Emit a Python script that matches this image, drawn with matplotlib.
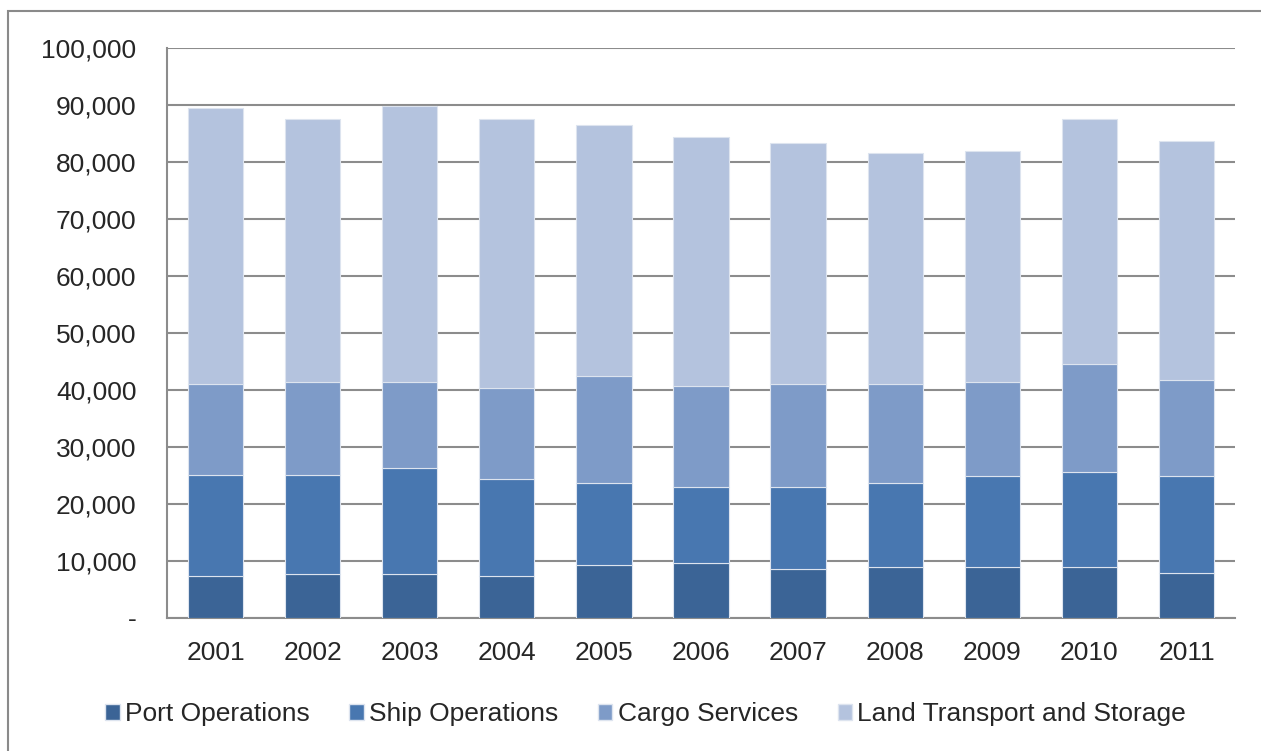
import matplotlib
matplotlib.use("Agg")
import matplotlib.pyplot as plt
import numpy as np
from matplotlib.patches import Rectangle, Patch
from matplotlib.ticker import FuncFormatter

# Data
years = ["2001", "2002", "2003", "2004", "2005", "2006", "2007", "2008", "2009", "2010", "2011"]
port_operations = [7350, 7700, 7700, 7350, 9200, 9500, 8500, 8800, 8800, 8800, 7800]
ship_operations = [17700, 17300, 18500, 17000, 14400, 13500, 14500, 14900, 16000, 16700, 17000]
cargo_services = [16000, 16300, 15100, 15900, 18800, 17700, 18000, 17300, 16600, 19100, 16900]
land_transport = [48400, 46200, 48600, 47300, 44100, 43700, 42300, 40500, 40500, 43000, 42000]

series_names = ["Port Operations", "Ship Operations", "Cargo Services", "Land Transport and Storage"]
colors = ["#3B6496", "#4877B0", "#7E9BC8", "#B4C3DE"]

plt.rcParams["font.family"] = ["Liberation Sans", "DejaVu Sans"]

fig = plt.figure(figsize=(12.61, 7.51), dpi=100)
ax = fig.add_axes([167 / 1261, 1 - 617.5 / 751, (1235 - 167) / 1261, (617.5 - 48) / 751])

# Outer chart frame
fig.patches.append(Rectangle((8 / 1261, -0.1), 1.1, 1 - 11 / 751 + 0.1, transform=fig.transFigure,
                             fill=False, edgecolor="#8A8A8A", linewidth=1.5, zorder=0))

x = np.arange(len(years))
bottom = np.zeros(len(years))
for values, name, color in zip([port_operations, ship_operations, cargo_services, land_transport],
                               series_names, colors):
    ax.bar(x, values, width=0.57, bottom=bottom, color=color, edgecolor="#DDE4EF",
           linewidth=0.8, label=name, zorder=3)
    bottom += np.array(values)

ax.set_xlim(-0.5, len(years) - 0.5)
ax.set_ylim(0, 100000)
ax.set_yticks(np.arange(0, 100001, 10000))
ax.yaxis.set_major_formatter(FuncFormatter(lambda v, p: "-" if v == 0 else f"{int(v):,}"))
ax.set_xticks(x)
ax.set_xticklabels(years)

ax.grid(axis="y", color="#8C8C8C", linewidth=1.5, zorder=0)
ax.set_axisbelow(True)
for side in ["top", "right"]:
    ax.spines[side].set_visible(False)
for side in ["left", "bottom"]:
    ax.spines[side].set_color("#8C8C8C")
    ax.spines[side].set_linewidth(1.5)

ax.tick_params(axis="y", length=0, pad=22, labelsize=19, labelcolor="#262626")
ax.tick_params(axis="x", length=0, pad=17, labelsize=19, labelcolor="#262626")

handles = [Patch(facecolor=c, edgecolor="#DDE4EF") for c in colors]
fig.legend(handles, series_names, loc="center", bbox_to_anchor=(0.512, 1 - 714 / 751), ncol=4,
           frameon=False, fontsize=19, handlelength=0.55, handleheight=0.55, handletextpad=0.2,
           columnspacing=1.5, labelcolor="#262626")

fig.savefig("out.png", dpi=100, facecolor="white")
